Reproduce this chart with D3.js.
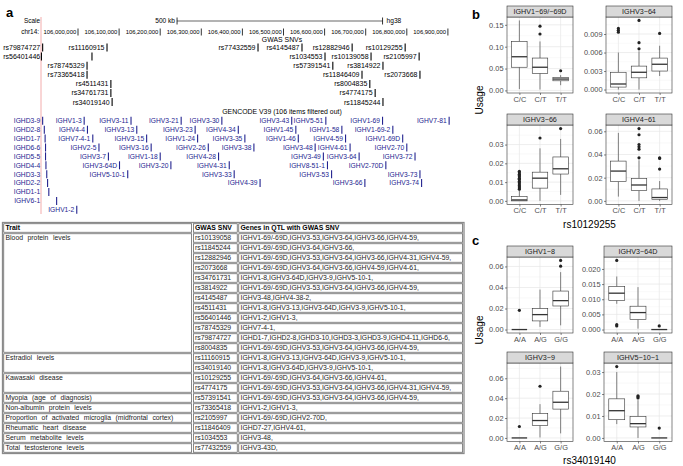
<!DOCTYPE html>
<html><head><meta charset="utf-8">
<script src="https://cdn.jsdelivr.net/npm/d3@7"></script>
<style>
body{margin:0;background:#fff}
svg{display:block}
text{font-family:"Liberation Sans",Arial,Helvetica,sans-serif}
</style>
</head><body>
<svg id="fig" width="683" height="466"></svg>
<script>
// ---------------- DATA ----------------
// genome browser (positions in Mb on chr14)
const chrTicks = [106.0,106.1,106.2,106.3,106.4,106.5,106.6,106.7,106.8,106.9];
const chrTickLabels = ["106,000,000","106,100,000","106,200,000","106,300,000","106,400,000","106,500,000","106,600,000","106,700,000","106,800,000","106,900,000"];
const windowStart = 105.910;
const scaleBarStart = 106.241;
const scaleBarLength = 0.5;

const snvRows = [
  ["rs79874727","rs11160915","rs77432559","rs4145487","rs12882946","rs10129255"],
  ["rs56401446","","rs1034553","rs10139058","rs2105997"],
  ["rs78745329","rs57391541","rs3814922"],
  ["rs73365418","rs11846409","rs2073668"],
  ["rs4511431","rs8004835"],
  ["rs34761731","rs4774175"],
  ["rs34019140","rs11845244"]
];
const snvPosRows = [
  [105.914,106.0706,106.438,106.545,106.667,106.796],
  [105.911,106.034,106.601,106.713,106.830],
  [106.022,106.620,106.742],
  [106.022,106.691,106.832],
  [106.080,106.710],
  [106.080,106.723],
  [106.083,106.742]
];

const geneRows = [
  ["IGHD3-9","IGHV1-3","IGHV3-11","IGHV3-21","IGHV3-30","IGHV3-43","IGHV5-51","IGHV1-69","IGHV7-81"],
  ["IGHD2-8","IGHV4-4","IGHV3-13","IGHV3-23","IGHV4-34","IGHV1-45","IGHV1-58","IGHV1-69-2"],
  ["IGHD1-7","IGHV7-4-1","IGHV3-15","IGHV1-24","IGHV3-35","IGHV1-46","IGHV4-59","IGHV1-69D"],
  ["IGHD6-6","IGHV2-5","IGHV3-16","IGHV2-26","IGHV3-38","IGHV3-48","IGHV4-61","IGHV2-70"],
  ["IGHD5-5","IGHV3-7","IGHV1-18","IGHV4-28","IGHV3-49","IGHV3-64","IGHV3-72"],
  ["IGHD4-4","IGHV3-64D","IGHV3-20","IGHV4-31","IGHV8-51-1","IGHV2-70D"],
  ["IGHD3-3","IGHV5-10-1","IGHV3-33","IGHV3-53","IGHV3-73"],
  ["IGHD2-2","IGHV4-39","IGHV3-66","IGHV3-74"],
  ["IGHD1-1"],
  ["IGHV6-1"],
  ["IGHV1-2"]
];
const genePosRows = [
  [105.914,106.015,106.129,106.251,106.350,106.520,106.603,106.741,106.903],
  [105.918,106.023,106.143,106.285,106.390,106.530,106.642,106.766],
  [105.920,106.036,106.167,106.291,106.406,106.536,106.651,106.790],
  [105.921,106.051,106.178,106.317,106.428,106.577,106.662,106.800],
  [105.921,106.074,106.200,106.342,106.597,106.684,106.820],
  [105.922,106.101,106.226,106.368,106.607,106.749],
  [105.924,106.121,106.380,106.617,106.832],
  [105.926,106.443,106.698,106.836],
  [105.929],
  [105.948],
  [105.997]
];

// table
const tableTraits = ["Blood protein levels","Estradiol levels","Kawasaki disease","Myopia (age of diagnosis)","Non-albumin protein levels","Proportion of activated microglia (midfrontal cortex)","Rheumatic heart disease","Serum metabolite levels","Total testosterone levels"];
const traitRowCounts = [12,2,2,1,1,1,1,1,1];
const tableHeader = ["Trait","GWAS SNV","Genes in QTL with GWAS SNV"];
const tableSnvs = ["rs10139058","rs11845244","rs12882946","rs2073668","rs34761731","rs3814922","rs4145487","rs4511431","rs56401446","rs78745329","rs79874727","rs8004835","rs11160915","rs34019140","rs10129255","rs4774175","rs57391541","rs73365418","rs2105997","rs11846409","rs1034553","rs77432559"];
const tableGenes = [
  "IGHV1-69/-69D,IGHV3-53,IGHV3-64,IGHV3-66,IGHV4-59,",
  "IGHV1-69/-69D,IGHV3-64,IGHV3-66,",
  "IGHV1-69/-69D,IGHV3-53,IGHV3-64,IGHV3-66,IGHV4-31,IGHV4-59,",
  "IGHV1-69/-69D,IGHV3-64,IGHV3-66,IGHV4-59,IGHV4-61,",
  "IGHV1-8,IGHV3-64D,IGHV3-9,IGHV5-10-1,",
  "IGHV1-69/-69D,IGHV3-53,IGHV3-64,IGHV3-66,IGHV4-59,",
  "IGHV3-48,IGHV4-38-2,",
  "IGHV1-8,IGHV3-13,IGHV3-64D,IGHV3-9,IGHV5-10-1,",
  "IGHV1-2,IGHV1-3,",
  "IGHV7-4-1,",
  "IGHD1-7,IGHD2-8,IGHD3-10,IGHD3-3,IGHD3-9,IGHD4-11,IGHD6-6,",
  "IGHV1-69/-69D,IGHV3-53,IGHV3-64,IGHV3-66,IGHV4-59,",
  "IGHV1-8,IGHV3-13,IGHV3-64D,IGHV3-9,IGHV5-10-1,",
  "IGHV1-8,IGHV3-64D,IGHV3-9,IGHV5-10-1,",
  "IGHV1-69/-69D,IGHV3-64,IGHV3-66,IGHV4-61,",
  "IGHV1-69/-69D,IGHV3-53,IGHV3-64,IGHV3-66,IGHV4-31,IGHV4-59,",
  "IGHV1-69/-69D,IGHV3-53,IGHV3-64,IGHV3-66,IGHV4-59,",
  "IGHV1-2,IGHV1-3,",
  "IGHV1-69/-69D,IGHV2-70D,",
  "IGHD7-27,IGHV4-61,",
  "IGHV3-48,",
  "IGHV3-43D,"
];

// boxplots panel b: [lower whisker, Q1, median, Q3, upper whisker]
const bSnv = "rs10129255";
const bGenes = ["IGHV1\u221269/\u221269D","IGHV3\u221264","IGHV3\u221266","IGHV4\u221261"];
const bGenotypes = ["C/C","C/T","T/T"];
const bStats = [
  [[0.003,0.053,0.077,0.112,0.160],[0.002,0.039,0.053,0.074,0.112],[0.012,0.022,0.026,0.030,0.035]],
  [[0.0,0.0004,0.0009,0.0028,0.0060],[0.0,0.0019,0.0028,0.0038,0.0062],[0.0022,0.0030,0.0041,0.0051,0.0071]],
  [[0.0,0.0,0.0005,0.0023,0.0057],[0.0,0.0068,0.0121,0.0153,0.0280],[0.0032,0.0143,0.0171,0.0234,0.0330]],
  [[0.0037,0.0166,0.0257,0.0343,0.0586],[0.0,0.0088,0.0137,0.0194,0.0350],[0.0,0.0014,0.0029,0.0103,0.0171]]
];
const bOutliers = [
  [[],[0.129,0.147],[0.045]],
  [[0.0093,0.0096,0.0099],[0.0066,0.0076,0.0112],[0.0091]],
  [[0.0062,0.0068,0.0075,0.0082,0.0090,0.0098,0.0105,0.0115,0.0120,0.0128,0.0135,0.0142,0.0150,0.0158],[0.0335],[0.0385]],
  [[],[0.0371,0.0446,0.0466,0.0486,0.0570,0.0623],[0.0274,0.0366,0.0372]]
];
const bTicks = [[0,0.05,0.10,0.15],[0,0.003,0.006,0.009],[0,0.01,0.02,0.03],[0,0.02,0.04,0.06]];
const bTickLabels = [["0.00","0.05","0.10","0.15"],["0.000","0.003","0.006","0.009"],["0.00","0.01","0.02","0.03"],["0.00","0.02","0.04","0.06"]];

// boxplots panel c
const cSnv = "rs34019140";
const cGenes = ["IGHV1\u22128","IGHV3\u221264D","IGHV3\u22129","IGHV5\u221210\u22121"];
const cGenotypes = ["A/A","A/G","G/G"];
const cStats = [
  [[0,0,0,0,0],[0.0025,0.0082,0.0142,0.0199,0.0380],[0.0040,0.0224,0.0275,0.0366,0.0546]],
  [[0.0085,0.0096,0.0120,0.0142,0.0175],[0.0003,0.0033,0.0056,0.0077,0.0140],[0,0,0,0,0]],
  [[0,0,0,0,0],[0.0005,0.0126,0.0175,0.0244,0.0340],[0.0046,0.0290,0.0359,0.0470,0.0718]],
  [[0.0063,0.0083,0.0124,0.0178,0.0300],[0.0,0.0050,0.0065,0.0098,0.0172],[0,0,0,0,0]]
];
const cOutliers = [
  [[0.0183],[],[0.0603,0.0657]],
  [[0.0012,0.0016,0.0228],[],[0.0012]],
  [[0.0115],[0.052],[]],
  [[0.0325],[0.0182,0.0187,0.0192],[0.0045]]
];
const cTicks = [[0,0.02,0.04,0.06],[0,0.005,0.010,0.015,0.020],[0,0.02,0.04,0.06],[0,0.01,0.02,0.03]];
const cTickLabels = [["0.00","0.02","0.04","0.06"],["0.000","0.005","0.010","0.015","0.020"],["0.00","0.02","0.04","0.06"],["0.00","0.01","0.02","0.03"]];

// ---------------- DRAW ----------------
const svg = d3.select("#fig");
const geneColor = "#23238f";

function label(g, x, y, t, opt = {}) {
  const el = g.append("text").attr("x", x).attr("y", y).attr("dy", "0.35em")
    .attr("text-anchor", opt.anchor || "start")
    .style("font-size", (opt.size || 7) + "px")
    .style("fill", opt.fill || "#000")
    .text(t);
  if (opt.bold) el.style("font-weight", "bold");
  return el;
}

// ===== panel a: browser =====
const A = svg.append("g");
label(A, 6, 12, "a", {size: 13, bold: true});
const gx = d3.scaleLinear().domain([106.0, 106.9]).range([78, 447.9]);
const gutter = gx(windowStart);

A.append("line").attr("x1", gutter).attr("x2", gutter).attr("y1", 17).attr("y2", 214)
  .attr("stroke", "#f2a3a3").attr("stroke-width", 0.9);

const yScale = 21;
label(A, gutter - 1, yScale, "Scale", {anchor: "end", size: 6.4});
const sb0 = gx(scaleBarStart), sb1 = gx(scaleBarStart + scaleBarLength);
label(A, sb0 - 2, yScale, "500 kb", {anchor: "end", size: 6.6});
A.append("line").attr("x1", sb0).attr("x2", sb1).attr("y1", yScale).attr("y2", yScale).attr("stroke", "#000").attr("stroke-width", 0.6);
[sb0, sb1].forEach(x => A.append("line").attr("x1", x).attr("x2", x).attr("y1", yScale - 3.5).attr("y2", yScale + 3.5).attr("stroke", "#000").attr("stroke-width", 0.8));
label(A, sb1 + 4, yScale, "hg38", {size: 6.6});

const yChr = 32;
label(A, gutter - 2, yChr, "chr14:", {anchor: "end", size: 6.4});
chrTicks.forEach((t, i) => {
  const x = gx(t);
  A.append("line").attr("x1", x).attr("x2", x).attr("y1", yChr - 3.5).attr("y2", yChr + 3.5).attr("stroke", "#000").attr("stroke-width", 0.8);
  label(A, x - 1.8, yChr, chrTickLabels[i], {anchor: "end", size: 5.9});
});

const trackCenter = 282;
label(A, trackCenter, 40, "GWAS SNVs", {anchor: "middle", size: 6.9});

function drawItems(rows, posRows, y0, dy, color, size) {
  rows.forEach((row, r) => {
    const y = y0 + dy * r;
    row.forEach((name, k) => {
      const x = gx(posRows[r][k]);
      A.append("line").attr("x1", x).attr("x2", x).attr("y1", y - 4).attr("y2", y + 4)
        .attr("stroke", color).attr("stroke-width", 1.1);
      if (!name) return;
      const t = label(A, x - 2.5, y, name, {anchor: "end", fill: color, size: size});
      const w = t.node().getComputedTextLength();
      if (x - 2.5 - w < gutter + 1) t.attr("x", gutter - 0.8);
    });
  });
}
drawItems(snvRows, snvPosRows, 47.5, 9.1, "#000", 7);
label(A, trackCenter, 111.5, "GENCODE V39 (106 items filtered out)", {anchor: "middle", size: 6.9});
drawItems(geneRows, genePosRows, 120.8, 8.9, geneColor, 6.7);

// ===== table =====
const T = svg.append("g");
const TFS = 6.85;
const colX = [3, 192.5, 238, 463.5];
const headY = 223, rowH = 10;
const nRows = tableSnvs.length;
T.append("rect").attr("x", colX[0] - 0.5).attr("y", headY - 0.5)
  .attr("width", colX[3] - colX[0] + 1).attr("height", rowH * (nRows + 1) + 1)
  .attr("fill", "none").attr("stroke", "#8a8a8a").attr("stroke-width", 1.3);
function cell(x0, x1, y0, h) {
  T.append("rect").attr("x", x0 + 0.8).attr("y", y0 + 0.8).attr("width", x1 - x0 - 1.6).attr("height", h - 1.6)
    .attr("fill", "none").attr("stroke", "#3a3a3a").attr("stroke-width", 0.6);
}
tableHeader.forEach((h, i) => {
  cell(colX[i], colX[i + 1], headY, rowH);
  label(T, colX[i] + 2.5, headY + rowH / 2, h, {bold: true, size: TFS});
});
let r0 = 0;
tableTraits.forEach((tr, i) => {
  const y0 = headY + rowH * (r0 + 1);
  cell(colX[0], colX[1], y0, rowH * traitRowCounts[i]);
  label(T, colX[0] + 2.5, y0 + rowH / 2, tr, {size: TFS, fill: "#222"})
    .style("word-spacing", "2.6px");
  r0 += traitRowCounts[i];
});
tableSnvs.forEach((s, i) => {
  const y0 = headY + rowH * (i + 1);
  cell(colX[1], colX[2], y0, rowH);
  cell(colX[2], colX[3], y0, rowH);
  label(T, colX[1] + 2.5, y0 + rowH / 2, s, {size: TFS, fill: "#222"});
  label(T, colX[2] + 2.5, y0 + rowH / 2, tableGenes[i], {size: TFS, fill: "#222"});
});

// ===== boxplot facets =====
function drawFacet(g, gene, cats, stats, outs, ticks, tickLabels, x0, x1, s0, p0, p1) {
  const all = stats.flatMap(s => [s[0], s[4]]).concat(outs.flat());
  const lo = d3.min(all), hi = d3.max(all), R = hi - lo;
  const y = d3.scaleLinear().domain([lo - 0.05 * R, hi + 0.05 * R]).range([p1, p0]);
  const x = d3.scalePoint().domain(cats).range([x0, x1]).padding(0.6);
  const bw = x.step() * 0.75;
  g.append("rect").attr("x", x0).attr("y", p0).attr("width", x1 - x0).attr("height", p1 - p0).attr("fill", "#fff");
  const step = ticks[1] - ticks[0];
  const minors = ticks.map(t => t - step / 2).concat([ticks[ticks.length - 1] + step / 2])
    .filter(v => v > y.domain()[0] && v < y.domain()[1]);
  minors.forEach(v => g.append("line").attr("x1", x0).attr("x2", x1).attr("y1", y(v)).attr("y2", y(v)).attr("stroke", "#f0f0f0").attr("stroke-width", 0.4));
  ticks.forEach(v => g.append("line").attr("x1", x0).attr("x2", x1).attr("y1", y(v)).attr("y2", y(v)).attr("stroke", "#e6e6e6").attr("stroke-width", 0.7));
  cats.forEach(c => g.append("line").attr("x1", x(c)).attr("x2", x(c)).attr("y1", p0).attr("y2", p1).attr("stroke", "#e6e6e6").attr("stroke-width", 0.7));
  const col = "#333";
  cats.forEach((c, i) => {
    const s = stats[i], cx = x(c);
    g.append("line").attr("x1", cx).attr("x2", cx).attr("y1", y(s[0])).attr("y2", y(s[1])).attr("stroke", col).attr("stroke-width", 0.6);
    g.append("line").attr("x1", cx).attr("x2", cx).attr("y1", y(s[3])).attr("y2", y(s[4])).attr("stroke", col).attr("stroke-width", 0.6);
    g.append("rect").attr("x", cx - bw / 2).attr("y", y(s[3])).attr("width", bw).attr("height", Math.max(0, y(s[1]) - y(s[3])))
      .attr("fill", "#fff").attr("stroke", col).attr("stroke-width", 0.6);
    g.append("line").attr("x1", cx - bw / 2).attr("x2", cx + bw / 2).attr("y1", y(s[2])).attr("y2", y(s[2])).attr("stroke", col).attr("stroke-width", 1.3);
    outs[i].forEach(v => g.append("circle").attr("cx", cx).attr("cy", y(v)).attr("r", 1.6).attr("fill", "#222"));
  });
  g.append("rect").attr("x", x0).attr("y", p0).attr("width", x1 - x0).attr("height", p1 - p0)
    .attr("fill", "none").attr("stroke", "#333").attr("stroke-width", 0.6);
  g.append("rect").attr("x", x0).attr("y", s0).attr("width", x1 - x0).attr("height", p0 - s0)
    .attr("fill", "#d9d9d9").attr("stroke", "#333").attr("stroke-width", 0.6);
  label(g, (x0 + x1) / 2, (s0 + p0) / 2, gene, {anchor: "middle", size: 7.2, fill: "#1a1a1a"});
  const ya = g.append("g").attr("transform", `translate(${x0},0)`)
    .call(d3.axisLeft(y).tickValues(ticks).tickFormat((d, i) => tickLabels[i]).tickSize(2).tickPadding(1.5));
  const xa = g.append("g").attr("transform", `translate(0,${p1})`)
    .call(d3.axisBottom(x).tickSize(2).tickPadding(1.5));
  [ya, xa].forEach(a => {
    a.select(".domain").remove();
    a.selectAll("line").attr("stroke", "#333").attr("stroke-width", 0.6);
    a.selectAll("text").style("font-family", '"Liberation Sans",Arial,sans-serif').style("font-size", "7.4px").attr("fill", "#4d4d4d");
  });
}

function drawPanel(letter, ly, genes, cats, stats, outs, ticks, tlabels, cols, rows, snv, titleY, usageY) {
  const g = svg.append("g");
  label(g, 472, ly, letter, {size: 13, bold: true});
  genes.forEach((gn, i) => {
    const c = cols[i % 2], r = rows[Math.floor(i / 2)];
    drawFacet(g, gn, cats, stats[i], outs[i], ticks[i], tlabels[i], c[0], c[1], r[0], r[1], r[2]);
  });
  label(g, (cols[0][0] + cols[1][1]) / 2, titleY, snv, {anchor: "middle", size: 10, fill: "#000"});
  g.append("text").attr("transform", `translate(479,${usageY}) rotate(-90)`).attr("dy", "0.35em")
    .attr("text-anchor", "middle").style("font-size", "10px").text("Usage");
}

drawPanel("b", 14, bGenes, bGenotypes, bStats, bOutliers, bTicks, bTickLabels,
  [[507, 573], [606, 672]], [[6, 17, 93], [114, 125, 204.5]], bSnv, 224, 100);
drawPanel("c", 240, cGenes, cGenotypes, cStats, cOutliers, cTicks, cTickLabels,
  [[507, 573], [604, 672]], [[246, 257, 333], [352, 363, 441.5]], cSnv, 460, 330);
</script>
</body></html>
